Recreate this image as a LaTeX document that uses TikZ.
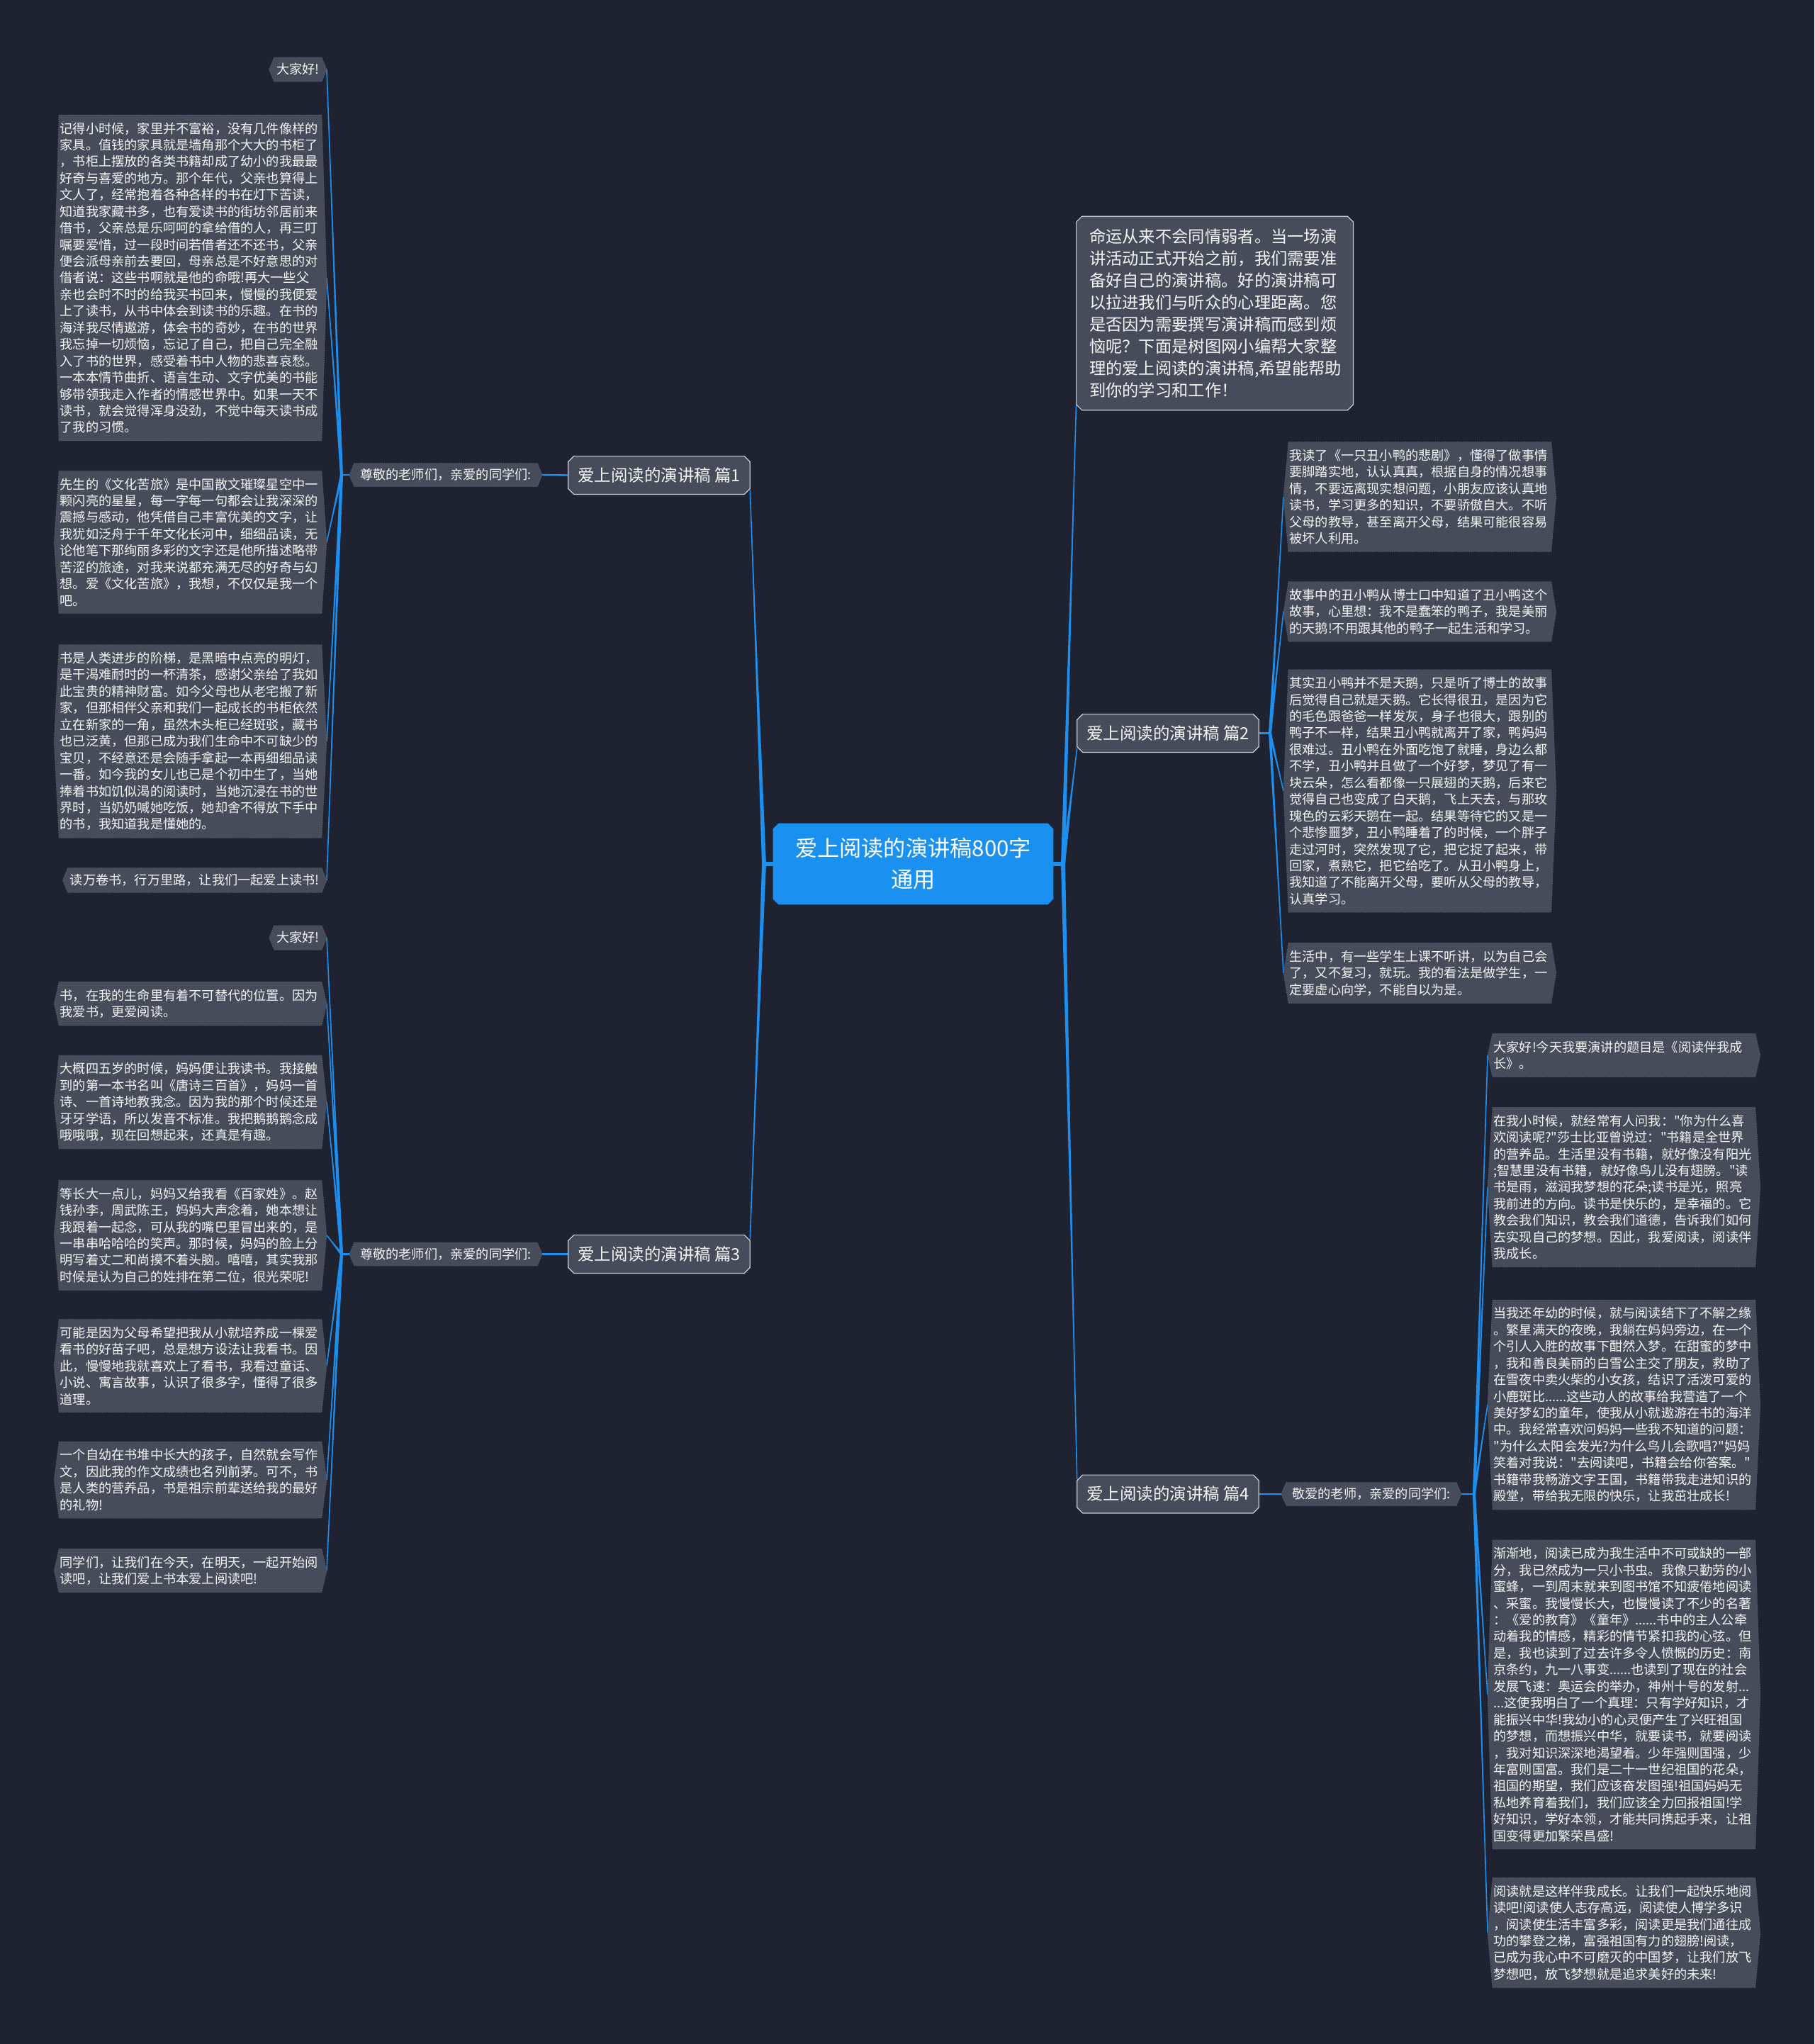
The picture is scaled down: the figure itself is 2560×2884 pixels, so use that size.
\documentclass[tikz,border=0pt]{standalone}
\usepackage{fontspec}
\setmainfont{Noto Sans CJK SC}[Ligatures=TeXOff]
\usetikzlibrary{calc}
\definecolor{bgcol}{HTML}{1F2331}
\definecolor{leafcol}{HTML}{474C5A}
\definecolor{leafline}{HTML}{62687A}
\definecolor{boxline}{HTML}{C8CCD4}
\definecolor{centercol}{HTML}{1A91F0}
\definecolor{linkcol}{HTML}{1D8FEF}
\definecolor{txtcol}{HTML}{F4F4F4}
\pgfdeclarelayer{bg}\pgfdeclarelayer{shapes}\pgfsetlayers{bg,shapes,main}
\newcommand\leaffont{\fontsize{9.1pt}{11.72pt}\selectfont}
\newcommand\branchfont{\fontsize{11.75pt}{14pt}\selectfont}
\newcommand\introfont{\fontsize{11.65pt}{15.5pt}\selectfont}
\newcommand\titlefont{\fontsize{15.6pt}{22pt}\selectfont}
\tikzset{
  leaf/.style={text=txtcol, font=\leaffont, text width=184pt, align=left, inner xsep=0.5pt, inner ysep=5pt},
  leafs/.style={text=txtcol, font=\leaffont, inner xsep=1.5pt, inner ysep=4.2pt},
  labelnode/.style={text=txtcol, font=\leaffont, inner xsep=4pt, inner ysep=3.7pt},
  branch/.style={text=txtcol, font=\branchfont, inner xsep=6.5pt, minimum height=26.5pt},
  introbox/.style={text=txtcol, font=\introfont, text width=177pt, align=left, inner xsep=9pt, inner ysep=8.5pt},
  rootnode/.style={text=white, font=\titlefont, align=center, minimum width=197.5pt, minimum height=57pt},
  leafshape/.style={fill=leafcol, draw=leafline, densely dotted, line width=0.4pt},
  boxshape/.style={fill=leafcol, draw=boxline, line width=0.6pt},
  rootshape/.style={fill=centercol},
  thinlink/.style={draw=linkcol, line width=1.2pt},
}
\newcommand\hexbg[1]{\path[leafshape] (#1.north west) -- (#1.north east) -- ($(#1.east)+(3.5pt,0)$) -- (#1.south east) -- (#1.south west) -- ($(#1.west)+(-3.5pt,0)$) -- cycle;}
\newcommand\octbg[2]{\path[#2] ($(#1.north west)+(4pt,0)$) -- ($(#1.north east)+(-4pt,0)$) -- ($(#1.north east)+(0,-4pt)$) -- ($(#1.south east)+(0,4pt)$) -- ($(#1.south east)+(-4pt,0)$) -- ($(#1.south west)+(4pt,0)$) -- ($(#1.south west)+(0,4pt)$) -- ($(#1.north west)+(0,-4pt)$) -- cycle;}
\newcommand\tips[1]{\coordinate (#1-e) at ($(#1.east)+(3.5pt,0)$); \coordinate (#1-w) at ($(#1.west)+(-3.5pt,0)$);}
\newcommand\taperlink[3]{\fill[linkcol] ($(#1)!#3!90:(#2)$) -- (#2) -- ($(#1)!#3!-90:(#2)$) -- cycle; \draw[linkcol,line width=0.8pt] (#1) -- (#2);}
\begin{document}
\begin{tikzpicture}[x=0.5pt,y=-0.5pt]
\useasboundingbox (0,0) rectangle (2560,2884);
% root and branches
\node[rootnode] (root) at (1288.5,1219) {爱上阅读的演讲稿800字\\通用};
\node[branch] (p1) at (930,670.5) {爱上阅读的演讲稿 篇1};
\node[branch] (p3) at (930,1769.5) {爱上阅读的演讲稿 篇3};
\node[branch] (p2) at (1648,1034.5) {爱上阅读的演讲稿 篇2};
\node[branch] (p4) at (1648,2108) {爱上阅读的演讲稿 篇4};
\node[introbox] (intro) at (1714,442) {命运从来不会同情弱者。当一场演\\
讲活动正式开始之前，我们需要准\\
备好自己的演讲稿。好的演讲稿可\\
以拉进我们与听众的心理距离。您\\
是否因为需要撰写演讲稿而感到烦\\
恼呢？下面是树图网小编帮大家整\\
理的爱上阅读的演讲稿,希望能帮助\\
到你的学习和工作！};
\node[labelnode] (l1) at (629,670) {尊敬的老师们，亲爱的同学们:};
\node[labelnode] (l3) at (629,1769.5) {尊敬的老师们，亲爱的同学们:};
\node[labelnode] (l4) at (1935,2108) {敬爱的老师，亲爱的同学们:};
% part 1 leaves
\node[leafs, anchor=east] (a1) at (454,98) {大家好!};
\node[leaf, anchor=east] (a2) at (454,392) {记得小时候，家里并不富裕，没有几件像样的\\
家具。值钱的家具就是墙角那个大大的书柜了\\
，书柜上摆放的各类书籍却成了幼小的我最最\\
好奇与喜爱的地方。那个年代，父亲也算得上\\
文人了，经常抱着各种各样的书在灯下苦读，\\
知道我家藏书多，也有爱读书的街坊邻居前来\\
借书，父亲总是乐呵呵的拿给借的人，再三叮\\
嘱要爱惜，过一段时间若借者还不还书，父亲\\
便会派母亲前去要回，母亲总是不好意思的对\\
借者说：这些书啊就是他的命哦!再大一些父\\
亲也会时不时的给我买书回来，慢慢的我便爱\\
上了读书，从书中体会到读书的乐趣。在书的\\
海洋我尽情遨游，体会书的奇妙，在书的世界\\
我忘掉一切烦恼，忘记了自己，把自己完全融\\
入了书的世界，感受着书中人物的悲喜哀愁。\\
一本本情节曲折、语言生动、文字优美的书能\\
够带领我走入作者的情感世界中。如果一天不\\
读书，就会觉得浑身没劲，不觉中每天读书成\\
了我的习惯。};
\node[leaf, anchor=east] (a3) at (454,765) {先生的《文化苦旅》是中国散文璀璨星空中一\\
颗闪亮的星星，每一字每一句都会让我深深的\\
震撼与感动，他凭借自己丰富优美的文字，让\\
我犹如泛舟于千年文化长河中，细细品读，无\\
论他笔下那绚丽多彩的文字还是他所描述略带\\
苦涩的旅途，对我来说都充满无尽的好奇与幻\\
想。爱《文化苦旅》，我想，不仅仅是我一个\\
吧。};
\node[leaf, anchor=east] (a4) at (454,1046) {书是人类进步的阶梯，是黑暗中点亮的明灯，\\
是干渴难耐时的一杯清茶，感谢父亲给了我如\\
此宝贵的精神财富。如今父母也从老宅搬了新\\
家，但那相伴父亲和我们一起成长的书柜依然\\
立在新家的一角，虽然木头柜已经斑驳，藏书\\
也已泛黄，但那已成为我们生命中不可缺少的\\
宝贝，不经意还是会随手拿起一本再细细品读\\
一番。如今我的女儿也已是个初中生了，当她\\
捧着书如饥似渴的阅读时，当她沉浸在书的世\\
界时，当奶奶喊她吃饭，她却舍不得放下手中\\
的书，我知道我是懂她的。};
\node[leafs, anchor=east] (a5) at (454,1242) {读万卷书，行万里路，让我们一起爱上读书!};
% part 3 leaves
\node[leafs, anchor=east] (b1) at (454,1323) {大家好!};
\node[leaf, anchor=east] (b2) at (454,1416) {书，在我的生命里有着不可替代的位置。因为\\
我爱书，更爱阅读。};
\node[leaf, anchor=east] (b3) at (454,1555) {大概四五岁的时候，妈妈便让我读书。我接触\\
到的第一本书名叫《唐诗三百首》，妈妈一首\\
诗、一首诗地教我念。因为我的那个时候还是\\
牙牙学语，所以发音不标准。我把鹅鹅鹅念成\\
哦哦哦，现在回想起来，还真是有趣。};
\node[leaf, anchor=east] (b4) at (454,1743) {等长大一点儿，妈妈又给我看《百家姓》。赵\\
钱孙李，周武陈王，妈妈大声念着，她本想让\\
我跟着一起念，可从我的嘴巴里冒出来的，是\\
一串串哈哈哈的笑声。那时候，妈妈的脸上分\\
明写着丈二和尚摸不着头脑。嘻嘻，其实我那\\
时候是认为自己的姓排在第二位，很光荣呢!};
\node[leaf, anchor=east] (b5) at (454,1927) {可能是因为父母希望把我从小就培养成一棵爱\\
看书的好苗子吧，总是想方设法让我看书。因\\
此，慢慢地我就喜欢上了看书，我看过童话、\\
小说、寓言故事，认识了很多字，懂得了很多\\
道理。};
\node[leaf, anchor=east] (b6) at (454,2088) {一个自幼在书堆中长大的孩子，自然就会写作\\
文，因此我的作文成绩也名列前茅。可不，书\\
是人类的营养品，书是祖宗前辈送给我的最好\\
的礼物!};
\node[leaf, anchor=east] (b7) at (454,2216) {同学们，让我们在今天，在明天，一起开始阅\\
读吧，让我们爱上书本爱上阅读吧!};
% part 2 leaves
\node[leaf, anchor=west] (c1) at (1818,701) {我读了《一只丑小鸭的悲剧》，懂得了做事情\\
要脚踏实地，认认真真，根据自身的情况想事\\
情，不要远离现实想问题，小朋友应该认真地\\
读书，学习更多的知识，不要骄傲自大。不听\\
父母的教导，甚至离开父母，结果可能很容易\\
被坏人利用。};
\node[leaf, anchor=west] (c2) at (1818,863) {故事中的丑小鸭从博士口中知道了丑小鸭这个\\
故事，心里想：我不是蠢笨的鸭子，我是美丽\\
的天鹅!不用跟其他的鸭子一起生活和学习。};
\node[leaf, anchor=west] (c3) at (1818,1116) {其实丑小鸭并不是天鹅，只是听了博士的故事\\
后觉得自己就是天鹅。它长得很丑，是因为它\\
的毛色跟爸爸一样发灰，身子也很大，跟别的\\
鸭子不一样，结果丑小鸭就离开了家，鸭妈妈\\
很难过。丑小鸭在外面吃饱了就睡，身边么都\\
不学，丑小鸭并且做了一个好梦，梦见了有一\\
块云朵，怎么看都像一只展翅的天鹅，后来它\\
觉得自己也变成了白天鹅，飞上天去，与那玫\\
瑰色的云彩天鹅在一起。结果等待它的又是一\\
个悲惨噩梦，丑小鸭睡着了的时候，一个胖子\\
走过河时，突然发现了它，把它捉了起来，带\\
回家，煮熟它，把它给吃了。从丑小鸭身上，\\
我知道了不能离开父母，要听从父母的教导，\\
认真学习。};
\node[leaf, anchor=west] (c4) at (1818,1373) {生活中，有一些学生上课不听讲，以为自己会\\
了，又不复习，就玩。我的看法是做学生，一\\
定要虚心向学，不能自以为是。};
% part 4 leaves
\node[leaf, anchor=west] (d1) at (2106,1489) {大家好!今天我要演讲的题目是《阅读伴我成\\
长》。};
\node[leaf, anchor=west] (d2) at (2106,1675) {在我小时候，就经常有人问我："你为什么喜\\
欢阅读呢?"莎士比亚曾说过："书籍是全世界\\
的营养品。生活里没有书籍，就好像没有阳光\\
;智慧里没有书籍，就好像鸟儿没有翅膀。"读\\
书是雨，滋润我梦想的花朵;读书是光，照亮\\
我前进的方向。读书是快乐的，是幸福的。它\\
教会我们知识，教会我们道德，告诉我们如何\\
去实现自己的梦想。因此，我爱阅读，阅读伴\\
我成长。};
\node[leaf, anchor=west] (d3) at (2106,1982) {当我还年幼的时候，就与阅读结下了不解之缘\\
。繁星满天的夜晚，我躺在妈妈旁边，在一个\\
个引人入胜的故事下酣然入梦。在甜蜜的梦中\\
，我和善良美丽的白雪公主交了朋友，救助了\\
在雪夜中卖火柴的小女孩，结识了活泼可爱的\\
小鹿斑比......这些动人的故事给我营造了一个\\
美好梦幻的童年，使我从小就遨游在书的海洋\\
中。我经常喜欢问妈妈一些我不知道的问题：\\
"为什么太阳会发光?为什么鸟儿会歌唱?"妈妈\\
笑着对我说："去阅读吧，书籍会给你答案。"\\
书籍带我畅游文字王国，书籍带我走进知识的\\
殿堂，带给我无限的快乐，让我茁壮成长!};
\node[leaf, anchor=west] (d4) at (2106,2391) {渐渐地，阅读已成为我生活中不可或缺的一部\\
分，我已然成为一只小书虫。我像只勤劳的小\\
蜜蜂，一到周末就来到图书馆不知疲倦地阅读\\
、采蜜。我慢慢长大，也慢慢读了不少的名著\\
：《爱的教育》《童年》......书中的主人公牵\\
动着我的情感，精彩的情节紧扣我的心弦。但\\
是，我也读到了过去许多令人愤慨的历史：南\\
京条约，九一八事变......也读到了现在的社会\\
发展飞速：奥运会的举办，神州十号的发射...\\
...这使我明白了一个真理：只有学好知识，才\\
能振兴中华!我幼小的心灵便产生了兴旺祖国\\
的梦想，而想振兴中华，就要读书，就要阅读\\
，我对知识深深地渴望着。少年强则国强，少\\
年富则国富。我们是二十一世纪祖国的花朵，\\
祖国的期望，我们应该奋发图强!祖国妈妈无\\
私地养育着我们，我们应该全力回报祖国!学\\
好知识，学好本领，才能共同携起手来，让祖\\
国变得更加繁荣昌盛!};
\node[leaf, anchor=west] (d5) at (2106,2727) {阅读就是这样伴我成长。让我们一起快乐地阅\\
读吧!阅读使人志存高远，阅读使人博学多识\\
，阅读使生活丰富多彩，阅读更是我们通往成\\
功的攀登之梯，富强祖国有力的翅膀!阅读，\\
已成为我心中不可磨灭的中国梦，让我们放飞\\
梦想吧，放飞梦想就是追求美好的未来!};
% tip coordinates
\foreach \n in {a1,a2,a3,a4,a5,b1,b2,b3,b4,b5,b6,b7,c1,c2,c3,c4,d1,d2,d3,d4,d5,l1,l3,l4}{\tips{\n}}
\coordinate (cl) at (1078,1219);
\coordinate (cr) at (1500,1219);
\coordinate (lp1) at (482,670);
\coordinate (lp3) at (482,1769.5);
\coordinate (rp2) at (1792,1034.5);
\coordinate (rp4) at (2080,2108);
\coordinate (p1c) at ($(p1.south east)+(0,3pt)$);
\coordinate (p3c) at ($(p3.north east)+(0,-3pt)$);
\coordinate (p2c) at ($(p2.south west)+(0,3pt)$);
\coordinate (p4c) at ($(p4.north west)+(0,-3pt)$);
\coordinate (introc) at ($(intro.south west)+(0,5pt)$);
% shapes
\begin{pgfonlayer}{shapes}
\octbg{root}{rootshape}
\foreach \n in {p1,p2,p3,p4,intro}{\octbg{\n}{boxshape}}
\foreach \n in {a1,a2,a3,a4,a5,b1,b2,b3,b4,b5,b6,b7,c1,c2,c3,c4,d1,d2,d3,d4,d5,l1,l3,l4}{\hexbg{\n}}
\end{pgfonlayer}
% background and connectors
\begin{pgfonlayer}{bg}
\fill[bgcol] (0,0) rectangle (2560,2884);
\draw[linkcol, line width=2.6pt] (root.west) -- (cl);
\draw[linkcol, line width=2.6pt] (root.east) -- (cr);
\taperlink{cl}{p1c}{1.5pt}
\taperlink{cl}{p3c}{1.5pt}
\taperlink{cr}{introc}{1.5pt}
\taperlink{cr}{p2c}{1.5pt}
\taperlink{cr}{p4c}{1.5pt}
\draw[thinlink] (p1.west) -- (l1-e);
\draw[thinlink] (p3.west) -- (l3-e);
\draw[thinlink] (p4.east) -- (l4-w);
\draw[thinlink] (l1-w) -- (lp1);
\draw[thinlink] (l3-w) -- (lp3);
\draw[thinlink] (p2.east) -- (rp2);
\draw[thinlink] (l4-e) -- (rp4);
\foreach \n in {a1,a2,a3,a4,a5}{\taperlink{lp1}{\n-e}{1pt}}
\foreach \n in {b1,b2,b3,b4,b5,b6,b7}{\taperlink{lp3}{\n-e}{1pt}}
\foreach \n in {c1,c2,c3,c4}{\taperlink{rp2}{\n-w}{1pt}}
\foreach \n in {d1,d2,d3,d4,d5}{\taperlink{rp4}{\n-w}{1pt}}
\end{pgfonlayer}
\end{tikzpicture}
\end{document}
